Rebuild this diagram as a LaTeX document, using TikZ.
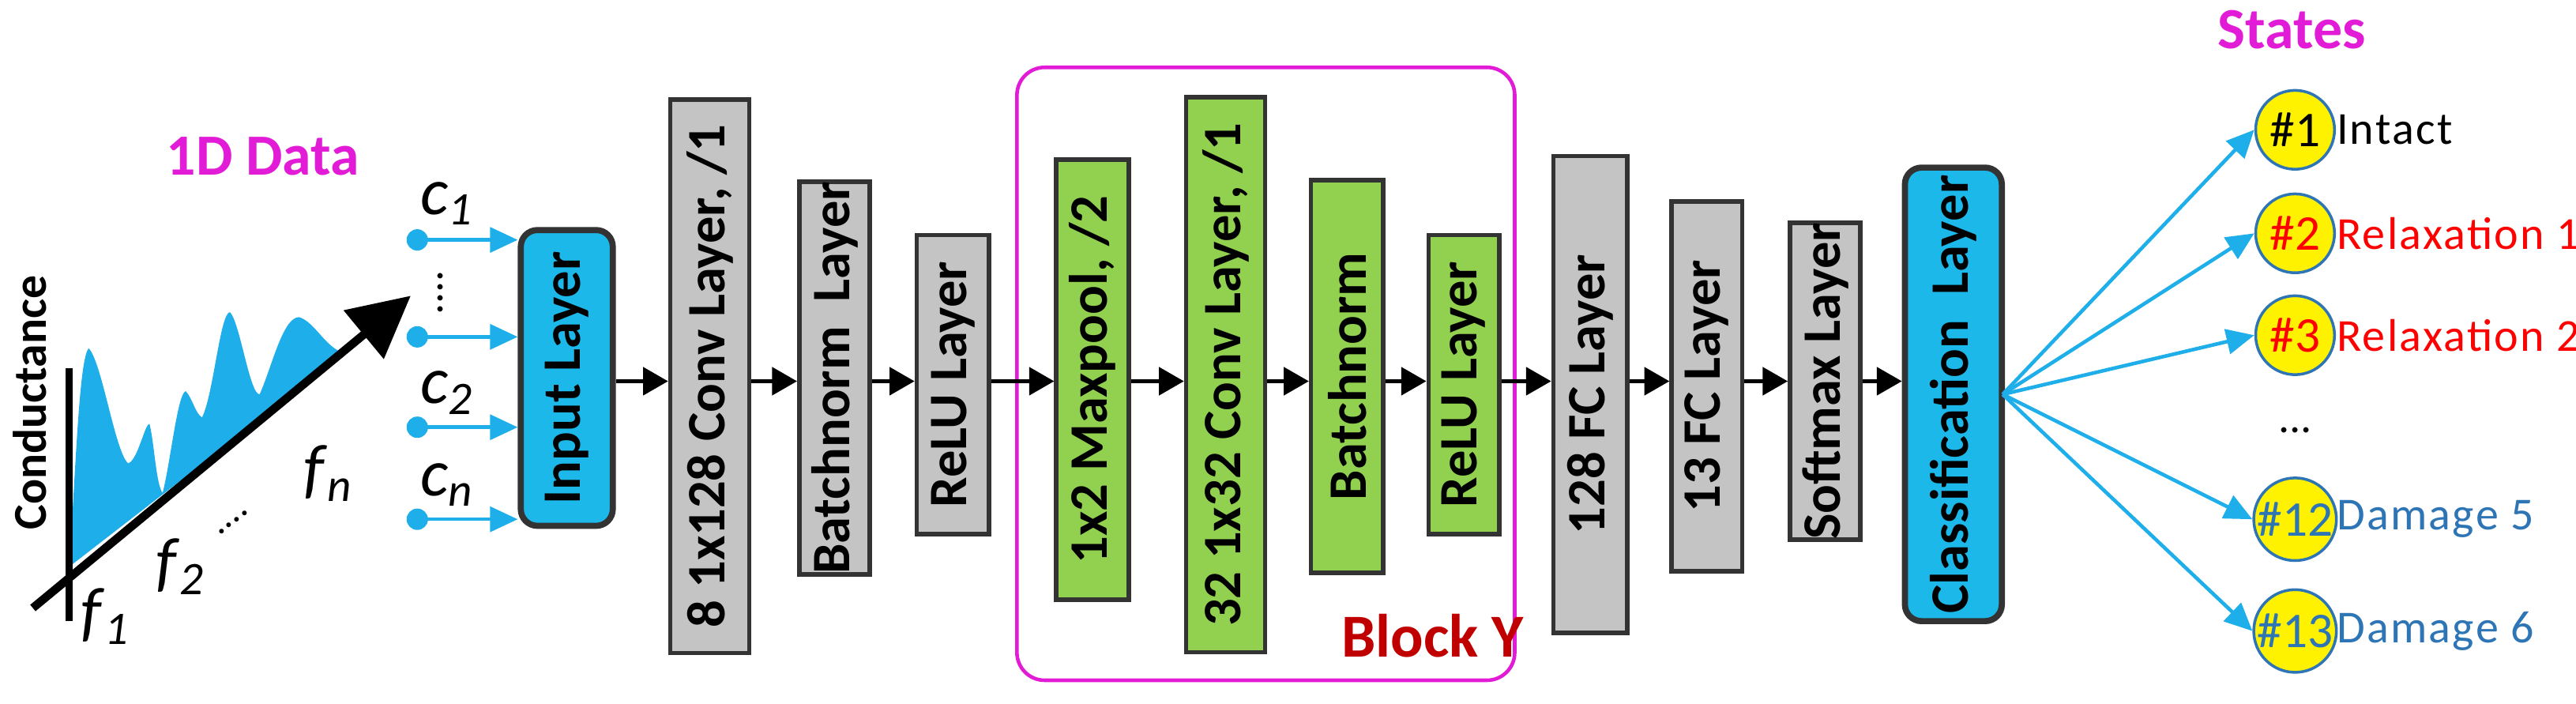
\documentclass[tikz,border=0pt]{standalone}
\usepackage{fontspec}
\setmainfont{Carlito}
\usetikzlibrary{arrows.meta}
\definecolor{lgray}{HTML}{C4C4C4}
\definecolor{lgreen}{HTML}{92D050}
\definecolor{lcyan}{HTML}{1CB8EA}
\definecolor{mag}{HTML}{E21CD6}
\definecolor{bred}{HTML}{C00000}
\definecolor{sblue}{HTML}{1EAEEA}
\definecolor{tblue}{HTML}{2E75B6}
\newcommand{\ilab}[2]{\textit{#1}\textsubscript{\textit{#2}}}
\begin{document}
\begin{tikzpicture}[x=0.0208cm,y=-0.0208cm,
  lay/.style={draw=black!80,line width=1.6pt,rotate=90,inner sep=0pt,font=\fontsize{19.5}{19.5}\selectfont\bfseries},
  gl/.style={lay,fill=lgray},
  gr/.style={lay,fill=lgreen},
  cy/.style={lay,fill=lcyan,rounded corners=6pt,line width=2.2pt},
  ar/.style={-{Triangle[length=9pt,width=10pt]},line width=1.2pt},
  sa/.style={-{Triangle[length=10pt,width=9pt]},draw=sblue,line width=1.3pt},
  st/.style={circle,draw=tblue,fill=yellow,line width=1pt,minimum size=48*0.0208cm,inner sep=0pt,font=\fontsize{18}{18}\selectfont},
  lb/.style={anchor=west,font=\fontsize{16.5}{16.5}\selectfont\addfontfeature{LetterSpace=4},inner sep=0pt},
  it/.style={font=\fontsize{24}{24}\selectfont}]
\useasboundingbox (0,0) rectangle (1568,428);
% ---- 1D data plot
\node[text=mag,font=\fontsize{21}{21}\selectfont\bfseries] (t1d) at (160,95) {1D Data};
\fill[sblue] (42,345) .. controls (46,290) and (48,218) .. (54,212)
  .. controls (62,220) and (70,275) .. (78,282) .. controls (84,280) and (88,258) .. (91,258)
  .. controls (94,270) and (95,295) .. (99,300) .. controls (104,280) and (108,240) .. (113,238)
  .. controls (117,242) and (119,252) .. (123,254) .. controls (130,240) and (134,190) .. (140,190)
  .. controls (146,196) and (152,240) .. (158,240) .. controls (165,225) and (172,193) .. (182,193)
  .. controls (192,196) and (198,212) .. (210,215) -- cycle;
\draw[line width=2.5pt] (42,224) -- (42,378);
\coordinate (ax0) at (20,370);
\coordinate (ax1) at (250,180);
\draw[line width=3pt,-{Triangle[length=22pt,width=22pt]}] (ax0) -- (ax1);
\node[rotate=90,font=\fontsize{17}{17}\selectfont\bfseries] (cond) at (18,245) {Conductance};
\node[it] (f1) at (64,375) {\ilab{f}{1}};
\node[it] (f2) at (110,345) {\ilab{f}{2}};
\node[font=\fontsize{14}{14}\selectfont,rotate=37,inner sep=0pt] (fd) at (142,318) {....};
\node[it] (fn) at (200,288) {\ilab{f}{n}};
% ---- input layer
\node[cy,minimum width=180*0.0208cm,minimum height=56*0.0208cm] (in) at (345,230) {Input Layer};
\foreach \y/\n in {146/a,205/b,260/c,316/d}{
  \fill[sblue] (254,\y) circle (6.5);
  \coordinate (d\n) at (254,\y);
  \draw[sa] (d\n) -- (in.north |- d\n);
}
\node[it] (c1) at (272,124) {\ilab{c}{1}};
\node[font=\fontsize{16}{16}\selectfont,rotate=90] (cd) at (268,178) {....};
\node[it] (c2) at (272,239) {\ilab{c}{2}};
\node[it] (cn) at (272,295) {\ilab{c}{n}};
% ---- layers
\node[gl,minimum width=337*0.0208cm,minimum height=48*0.0208cm] (cv1) at (432,229) {8 1x128 Conv Layer, /1};
\node[gl,minimum width=235*0.0208cm,minimum height=43*0.0208cm] (bn1) at (508,230) {Batchnorm\ \ Layer};
\node[gl,minimum width=182*0.0208cm,minimum height=44*0.0208cm] (re1) at (580,234) {ReLU Layer};
\draw[mag,line width=1.3pt,rounded corners=10pt] (619,41) rectangle (922,414);
\node[text=bred,font=\fontsize{22}{22}\selectfont\bfseries] (by) at (872,387) {Block Y};
\node[gr,minimum width=268*0.0208cm,minimum height=44*0.0208cm] (mp) at (665,231) {1x2 Maxpool, /2};
\node[gr,minimum width=338*0.0208cm,minimum height=48*0.0208cm] (cv2) at (746,228) {32 1x32 Conv Layer, /1};
\node[gr,minimum width=239*0.0208cm,minimum height=44*0.0208cm] (bn2) at (820,229) {Batchnorm};
\node[gr,minimum width=182*0.0208cm,minimum height=43*0.0208cm] (re2) at (891,234) {ReLU Layer};
\node[gl,minimum width=290*0.0208cm,minimum height=45*0.0208cm] (fc1) at (968,240) {128 FC Layer};
\node[gl,minimum width=225*0.0208cm,minimum height=43*0.0208cm] (fc2) at (1039,235) {13 FC Layer};
\node[gl,minimum width=180*0.0208cm,minimum height=43*0.0208cm] (sm) at (1111,232) {Softmax Layer};
\node[cy,minimum width=276*0.0208cm,minimum height=59*0.0208cm] (cl) at (1189,240) {Classification\ \ Layer};
\foreach \a/\b in {in/cv1,cv1/bn1,bn1/re1,re1/mp,mp/cv2,cv2/bn2,bn2/re2,re2/fc1,fc1/fc2,fc2/sm,sm/cl}{
  \draw[ar] (\a.south |- 0,232) -- (\b.north |- 0,232);
}
% ---- states
\node[text=mag,font=\fontsize{21}{21}\selectfont\bfseries] (tst) at (1395,18) {States};
\node[st] (s1) at (1397,79) {\#1};
\node[st,text=red] (s2) at (1397,142) {\#2};
\node[st,text=red] (s3) at (1397,204) {\#3};
\node[st,text=tblue] (s12) at (1397,316) {\#12};
\node[st,text=tblue] (s13) at (1397,384) {\#13};
\node[lb] (l1) at (1422,79) {Intact};
\node[lb,text=red] (l2) at (1422,142) {Relaxation 1};
\node[lb,text=red] (l3) at (1422,204) {Relaxation 2};
\node[lb,text=tblue] (l12) at (1422,316) {Damage 5};
\node[lb,text=tblue] (l13) at (1422,384) {Damage 6};
\node[font=\fontsize{16}{16}\selectfont] (dots) at (1397,262) {...};
\coordinate (co) at (1219,240);
\foreach \s in {s1,s2,s3,s12,s13}{ \draw[sa] (co) -- (\s.west); }
\end{tikzpicture}
\end{document}
